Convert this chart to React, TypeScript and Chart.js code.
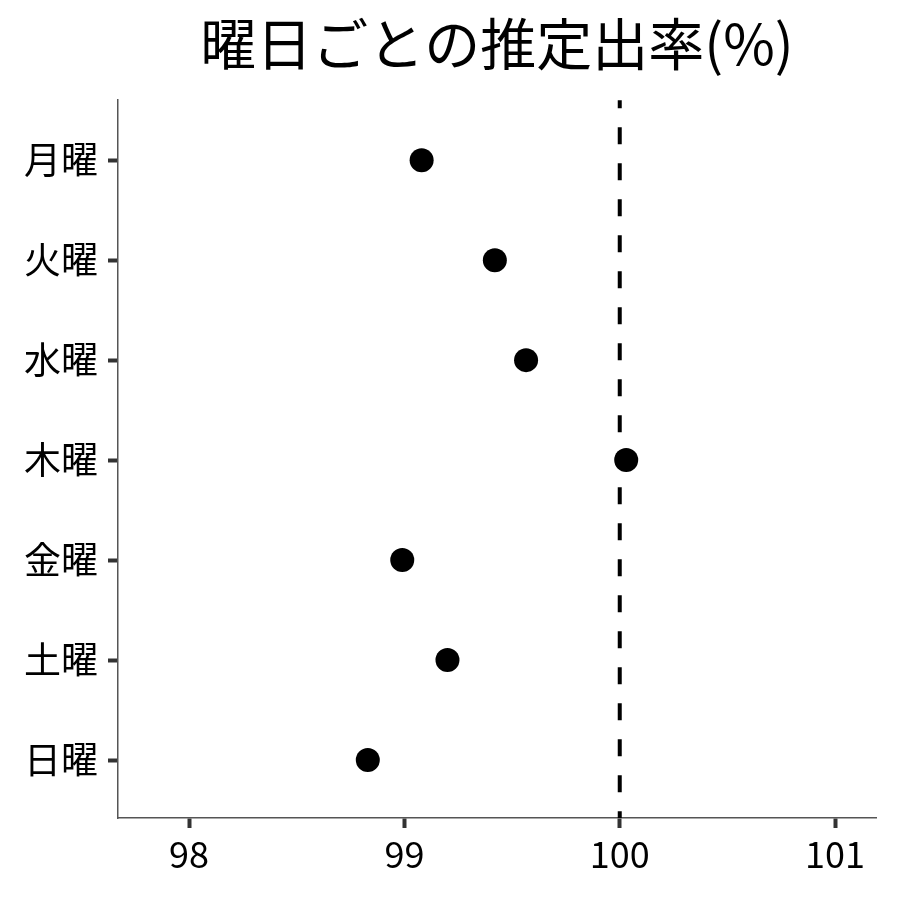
import { useEffect, useRef } from "react";
import { Chart, registerables } from "chart.js";

Chart.register(...registerables);

const titleText = "曜日ごとの推定出率(%)";
const dayLabels = ["月曜", "火曜", "水曜", "木曜", "金曜", "土曜", "日曜"];
const estimates = [99.08, 99.42, 99.565, 100.03, 98.99, 99.2, 98.83];
const xTickValues = [98, 99, 100, 101];
const referenceValue = 100;

const FONT = "'Noto Sans CJK JP', 'Noto Sans', sans-serif";

const refLinePlugin = {
  id: "refLine",
  beforeDatasetsDraw(chart: Chart) {
    const { ctx, chartArea, scales } = chart;
    const x = scales.x.getPixelForValue(referenceValue);
    ctx.save();
    ctx.beginPath();
    ctx.setLineDash([17, 19]);
    ctx.lineDashOffset = 9;
    ctx.lineWidth = 4;
    ctx.strokeStyle = "#000";
    ctx.moveTo(x, chartArea.top);
    ctx.lineTo(x, chartArea.bottom);
    ctx.stroke();
    ctx.restore();
  }
};

export default function App() {
  const canvasRef = useRef<HTMLCanvasElement | null>(null);

  useEffect(() => {
    if (!canvasRef.current) return;

    const chart = new Chart(canvasRef.current, {
      type: "scatter",
      data: {
        datasets: [
          {
            data: estimates.map((v, i) => ({ x: v, y: i })),
            backgroundColor: "#000",
            borderWidth: 0,
            pointRadius: 12,
            pointHoverRadius: 12
          }
        ]
      },
      options: {
        animation: false,
        responsive: true,
        maintainAspectRatio: false,
        layout: { padding: { left: 0, right: 24, top: 0, bottom: 0 } },
        plugins: {
          legend: { display: false },
          tooltip: { enabled: false },
          title: {
            display: true,
            text: titleText,
            fullSize: false,
            color: "#000",
            font: { family: FONT, size: 56, weight: "normal", lineHeight: 1.2 },
            padding: { top: 10, bottom: 23 }
          }
        },
        scales: {
          x: {
            type: "linear",
            min: 97.67,
            max: 101.19,
            afterBuildTicks: (scale) => {
              scale.ticks = xTickValues.map((v) => ({ value: v }));
            },
            afterFit: (scale) => {
              scale.height = 82;
            },
            border: { display: true, color: "#555", width: 1.5 },
            grid: {
              display: true,
              drawOnChartArea: false,
              drawTicks: true,
              tickLength: 10,
              tickWidth: 4,
              tickColor: "#333"
            },
            ticks: {
              color: "#000",
              padding: 5,
              font: { family: FONT, size: 36 },
              callback: (v) => String(v)
            }
          },
          y: {
            type: "linear",
            reverse: true,
            min: -0.6,
            max: 6.58,
            afterBuildTicks: (scale) => {
              scale.ticks = dayLabels.map((_, i) => ({ value: i }));
            },
            afterFit: (scale) => {
              scale.width = 118;
            },
            border: { display: true, color: "#555", width: 1.5 },
            grid: {
              display: true,
              drawOnChartArea: false,
              drawTicks: true,
              tickLength: 10,
              tickWidth: 4,
              tickColor: "#333"
            },
            ticks: {
              color: "#000",
              padding: 10,
              font: { family: FONT, size: 37 },
              callback: (v) => dayLabels[Number(v)] ?? ""
            }
          }
        }
      },
      plugins: [refLinePlugin]
    });

    return () => chart.destroy();
  }, []);

  return (
    <div
      style={{
        position: "fixed",
        left: 0,
        top: 0,
        width: 900,
        height: 900,
        background: "#fff"
      }}
    >
      <canvas ref={canvasRef} />
    </div>
  );
}
